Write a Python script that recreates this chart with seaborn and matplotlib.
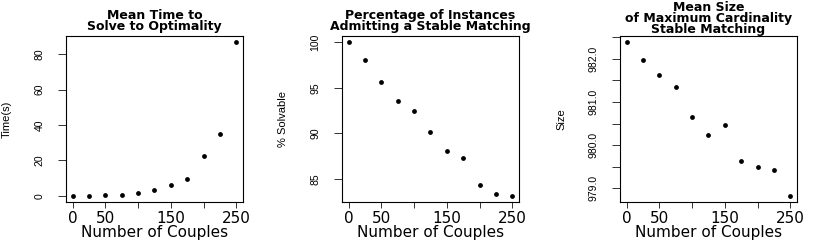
import numpy as np
import pandas as pd
import matplotlib
matplotlib.use("Agg")
import matplotlib.pyplot as plt
import seaborn as sns

# Dados
couples = [0, 25, 50, 75, 100, 125, 150, 175, 200, 225, 250]
mean_time = [0.0, 0.05, 0.2, 0.75, 1.7, 3.5, 6.0, 9.7, 22.6, 34.8, 86.9]
pct_solvable = [100.0, 98.0, 95.6, 93.5, 92.5, 90.1, 88.1, 87.3, 84.3, 83.3, 83.15]
mean_size = [982.39, 981.97, 981.63, 981.34, 980.65, 980.23, 980.47,
             979.64, 979.50, 979.42, 978.82]

titles = ["Mean Time to\nSolve to Optimality",
          "Percentage of Instances\nAdmitting a Stable Matching",
          "Mean Size\nof Maximum Cardinality\nStable Matching"]
ylabels = ["Time(s)", "% Solvable", "Size"]
xticks = [0, 50, 100, 150, 200, 250]
xticklabels = ["0", "50", "", "150", "", "250"]
yticks = [[0, 20, 40, 60, 80],
          [85, 90, 95, 100],
          [979.0, 979.5, 980.0, 980.5, 981.0, 981.5, 982.0, 982.5]]
yticklabels = [["0", "20", "40", "60", "80"],
               ["85", "90", "95", "100"],
               ["979.0", "", "980.0", "", "981.0", "", "982.0", ""]]

sns.set_style("ticks")
plt.rcParams['font.family'] = ['DejaVu Sans']
plt.rcParams.update({"text.color": "black", "axes.labelcolor": "black",
                     "xtick.color": "black", "ytick.color": "black"})

df = pd.DataFrame({"couples": couples, "time": mean_time,
                   "solvable": pct_solvable, "size": mean_size})
cols = ["time", "solvable", "size"]

fig = plt.figure(figsize=(8.28, 2.48), dpi=100)
lefts = [66, 342, 620]
title_pads = [4, 4, 1]
for i, col in enumerate(cols):
    ax = fig.add_axes([lefts[i] / 828, 1 - 202 / 248, 177 / 828, 166 / 248])
    sns.scatterplot(data=df, x="couples", y=col, ax=ax, color="black",
                    s=12, edgecolor="black", linewidth=0)
    # margem de 4% como no R
    vals = df[col]
    ext = (vals.max() - vals.min()) * 0.04
    ax.set_ylim(vals.min() - ext, vals.max() + ext)
    ax.set_xlim(-10, 260)
    ax.set_xticks(xticks)
    ax.set_xticklabels(xticklabels, fontsize=11)
    ax.set_yticks(yticks[i])
    ax.set_yticklabels(yticklabels[i], rotation=90, va="center",
                       fontsize=7.5, family="Liberation Sans")
    ax.tick_params(axis="x", length=4.5, width=0.7, color="#333333", pad=2)
    ax.tick_params(axis="y", length=5.5, width=0.7, color="#333333", pad=10)
    for s in ax.spines.values():
        s.set_linewidth(0.8)
        s.set_color("black")
    ax.set_xlabel("Number of Couples", fontsize=11, va="center")
    ax.xaxis.set_label_coords(0.5, -30 / 166)
    ax.set_ylabel(ylabels[i], fontsize=8, family="Liberation Sans",
                  va="center")
    ax.yaxis.set_label_coords(-59 / 177, 0.5)
    ax.set_title(titles[i], fontsize=9, fontweight="bold", pad=title_pads[i],
                 linespacing=0.8)

fig.savefig("out.png", dpi=100)
